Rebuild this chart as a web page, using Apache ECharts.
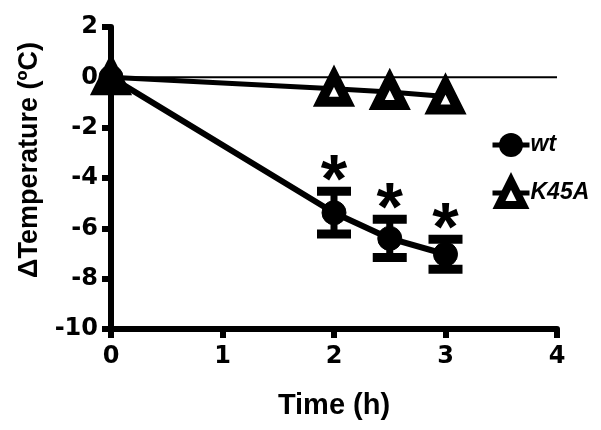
<!DOCTYPE html>
<html>
<head>
<meta charset="utf-8">
<script src="https://cdn.jsdelivr.net/npm/echarts@6/dist/echarts.min.js"></script>
<style>
    html, body { margin: 0; padding: 0; background: #fff; }
    #chart { width: 601px; height: 430px; }
</style>
</head>
<body>
<div id="chart"></div>
<script>
    // time points (h)
    var times = [0, 2, 2.5, 3];
    // wt: mean and SEM
    var wtMean = [0, -5.38, -6.4, -7.03];
    var wtErr = [0, 0.85, 0.76, 0.6];
    // K45A mean
    var k45aMean = [0, -0.45, -0.58, -0.76];
    var starred = [false, true, true, true];

    var xTicks = [0, 1, 2, 3, 4];
    var yTicks = [2, 0, -2, -4, -6, -8, -10];

    var font = '"Liberation Sans", Arial, sans-serif';
    var tickFont = '"DejaVu Sans", sans-serif';

    var wtData = times.map(function (t, i) { return [t, wtMean[i]]; });
    var k45aData = times.map(function (t, i) { return [t, k45aMean[i]]; });
    var errData = [];
    times.forEach(function (t, i) {
        if (wtErr[i] > 0) errData.push([t, wtMean[i] - wtErr[i], wtMean[i] + wtErr[i], starred[i] ? 1 : 0]);
    });

    var chart = echarts.init(document.getElementById('chart'));
    var option = {
        animation: false,
        backgroundColor: '#fff',
        grid: { left: 111, right: 44, top: 27, bottom: 101 },
        legend: {
            orient: 'vertical',
            left: 485,
            top: 128,
            itemGap: 20,
            itemWidth: 37,
            itemHeight: 30,
            textStyle: { fontFamily: font, fontSize: 23, fontWeight: 'bold', fontStyle: 'italic', color: '#000', padding: [0, 0, 0, -4] },
            data: [
                { name: 'wt', itemStyle: { color: '#000' }, lineStyle: { width: 5 } },
                { name: 'K45A', itemStyle: { color: '#fff', borderColor: '#000', borderWidth: 8 }, lineStyle: { width: 5 } }
            ]
        },
        xAxis: {
            type: 'value',
            min: xTicks[0], max: xTicks[xTicks.length - 1], interval: 1,
            name: 'Time (h)',
            nameLocation: 'middle',
            nameGap: 62,
            nameTextStyle: { fontFamily: font, fontSize: 29, fontWeight: 'bold', color: '#000' },
            axisLine: { onZero: false, lineStyle: { color: '#000', width: 6 } },
            axisTick: { length: 9, lineStyle: { color: '#000', width: 6 } },
            axisLabel: { fontFamily: tickFont, fontSize: 24, fontWeight: 'bold', color: '#000', margin: 16 },
            splitLine: { show: false }
        },
        yAxis: {
            type: 'value',
            min: yTicks[yTicks.length - 1], max: yTicks[0], interval: 2,
            name: 'ΔTemperature (ºC)',
            nameLocation: 'middle',
            nameRotate: 90,
            nameGap: 68,
            nameTextStyle: { fontFamily: font, fontSize: 27, fontWeight: 'bold', color: '#000', padding: [0, 0, 0, 36] },
            axisLine: { onZero: false, lineStyle: { color: '#000', width: 6 } },
            axisTick: { length: 9, lineStyle: { color: '#000', width: 6 } },
            axisLabel: { fontFamily: tickFont, fontSize: 24, fontWeight: 'bold', color: '#000', margin: 13 },
            splitLine: { show: false }
        },
        series: [
            {
                name: 'zero',
                type: 'line',
                data: [[xTicks[0], 0], [xTicks[xTicks.length - 1], 0]],
                symbol: 'none',
                lineStyle: { color: '#000', width: 2 },
                z: 1
            },
            {
                name: 'err',
                type: 'custom',
                data: errData,
                z: 3,
                renderItem: function (params, api) {
                    var x = api.value(0);
                    var lo = api.coord([x, api.value(1)]);
                    var hi = api.coord([x, api.value(2)]);
                    var half = 17;
                    var children = [
                        { type: 'line', shape: { x1: lo[0], y1: lo[1], x2: hi[0], y2: hi[1] }, style: { stroke: '#000', lineWidth: 7 } },
                        { type: 'line', shape: { x1: lo[0] - half, y1: lo[1], x2: lo[0] + half, y2: lo[1] }, style: { stroke: '#000', lineWidth: 9 } },
                        { type: 'line', shape: { x1: hi[0] - half, y1: hi[1], x2: hi[0] + half, y2: hi[1] }, style: { stroke: '#000', lineWidth: 9 } }
                    ];
                    if (api.value(3)) {
                        children.push({
                            type: 'text',
                            style: {
                                text: '*', x: hi[0], y: hi[1] - 8,
                                fill: '#000', font: 'bold 68px ' + font,
                                align: 'center', verticalAlign: 'middle'
                            }
                        });
                    }
                    return { type: 'group', children: children };
                }
            },
            {
                name: 'K45A',
                type: 'line',
                data: k45aData,
                symbol: 'triangle',
                symbolSize: [26, 26],
                lineStyle: { color: '#000', width: 5 },
                itemStyle: { color: '#fff', borderColor: '#000', borderWidth: 10 },
                z: 4
            },
            {
                name: 'wt',
                type: 'line',
                data: wtData,
                symbol: 'circle',
                symbolSize: 24,
                lineStyle: { color: '#000', width: 6 },
                itemStyle: { color: '#000', borderColor: '#000' },
                z: 5
            }
        ]
    };
    chart.setOption(option);
</script>
</body>
</html>
